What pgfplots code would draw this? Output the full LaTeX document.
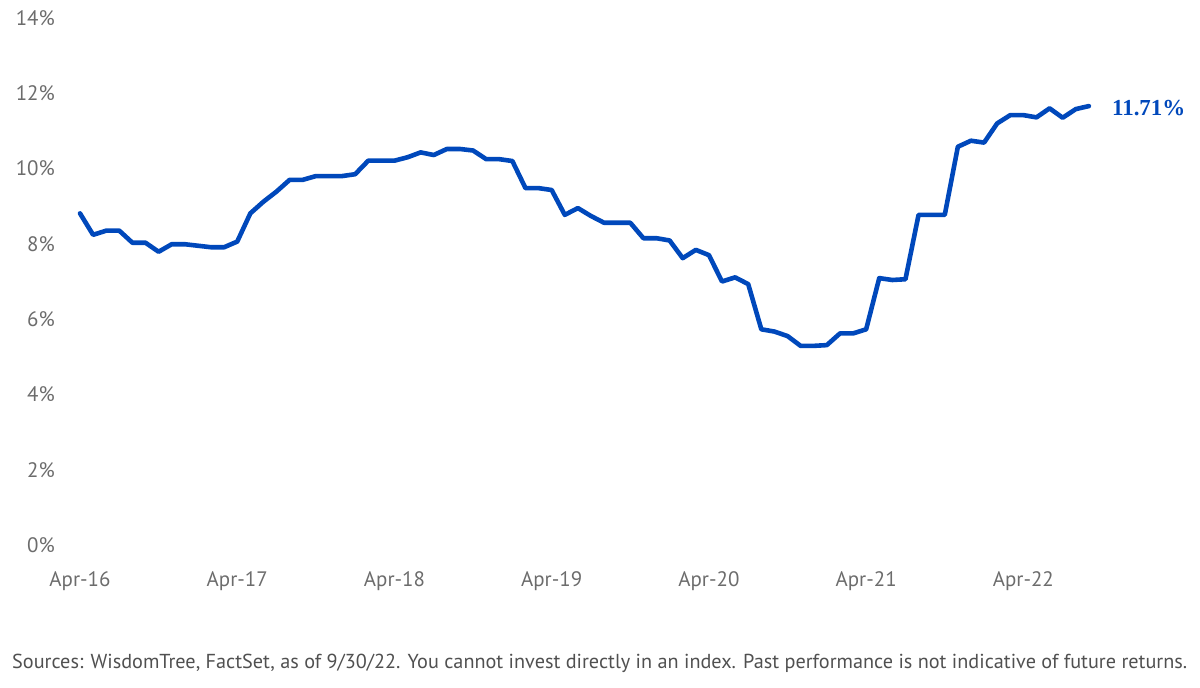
\documentclass[border=0pt]{standalone}
\usepackage{pgfplots}
\pgfplotsset{compat=1.18}
\usepackage{fontspec}
\setmainfont{PT Sans}
\newfontfamily\labfont{Liberation Serif}
\definecolor{wtblue}{RGB}{0,72,187}
\definecolor{tickgray}{RGB}{108,108,108}
\definecolor{srcgray}{RGB}{80,80,80}
\pgfplotstableread{
i v
0 8.81
1 8.24
2 8.35
3 8.35
4 8.03
5 8.03
6 7.79
7 7.99
8 7.99
9 7.95
10 7.91
11 7.91
12 8.06
13 8.81
14 9.12
15 9.39
16 9.70
17 9.70
18 9.80
19 9.80
20 9.80
21 9.85
22 10.21
23 10.21
24 10.21
25 10.30
26 10.43
27 10.36
28 10.52
29 10.52
30 10.48
31 10.25
32 10.25
33 10.20
34 9.48
35 9.48
36 9.43
37 8.77
38 8.95
39 8.74
40 8.56
41 8.56
42 8.56
43 8.15
44 8.15
45 8.09
46 7.62
47 7.84
48 7.70
49 7.00
50 7.11
51 6.93
52 5.73
53 5.67
54 5.55
55 5.29
56 5.29
57 5.31
58 5.62
59 5.62
60 5.73
61 7.09
62 7.04
63 7.06
64 8.77
65 8.77
66 8.77
67 10.58
68 10.74
69 10.69
70 11.20
71 11.42
72 11.42
73 11.36
74 11.60
75 11.35
76 11.58
77 11.66
}\series
\begin{document}
\begin{tikzpicture}
\path[use as bounding box] (-80bp,-143bp) rectangle (1120bp,545bp);
\begin{axis}[
  at={(0,0)}, anchor=south west,
  scale only axis, width=1009bp, height=527bp,
  xmin=0, xmax=77, ymin=0, ymax=14,
  axis line style={draw=none},
  major tick style={draw=none},
  xtick={0,12,24,36,48,60,72},
  xticklabels={Apr-16,Apr-17,Apr-18,Apr-19,Apr-20,Apr-21,Apr-22},
  ytick={0,2,4,6,8,10,12,14},
  yticklabel={\pgfmathprintnumber{\tick}\%},
  /pgf/number format/assume math mode=true,
  ticklabel style={font=\fontsize{21}{24}\selectfont, text=tickgray, inner sep=0pt},
  yticklabel style={anchor=east, xshift=-25bp},
  xticklabel style={anchor=north, yshift=-26bp},
  clip=false,
]
\addplot[wtblue, line width=4.6bp, line join=round, line cap=round] table[x=i, y=v] {\series};
\node[anchor=west, text=wtblue, font=\labfont\bfseries\fontsize{23}{26}\selectfont, inner sep=0pt, xshift=23bp, yshift=-2bp] at (axis cs:77,11.66) {11.71\%};
\end{axis}
\node[anchor=base west, inner sep=0pt, text=srcgray, font=\fontsize{20.3}{24}\selectfont] at (-68bp,-123bp) {Sources: WisdomTree, FactSet, as of 9/30/22. You cannot invest directly in an index. Past performance is not indicative of future returns.};
\end{tikzpicture}
\end{document}
